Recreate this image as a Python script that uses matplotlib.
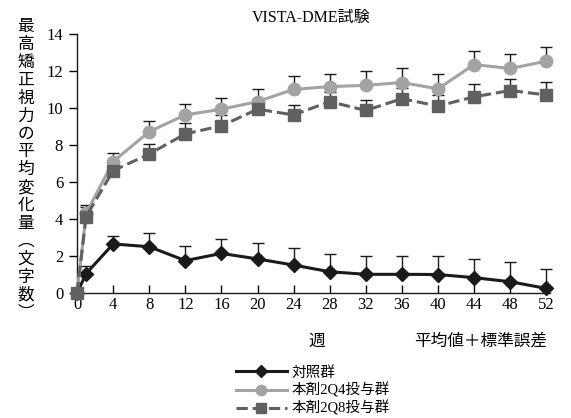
import numpy as np
import matplotlib.pyplot as plt
from matplotlib.lines import Line2D

plt.rcParams['font.family'] = ['Liberation Serif', 'Noto Sans CJK JP']

# ── DATA ──────────────────────────────────────────────────────────────────────
weeks = [0, 1, 4, 8, 12, 16, 20, 24, 28, 32, 36, 40, 44, 48, 52]

ctrl_mean = [0, 1.05, 2.65, 2.5, 1.75, 2.14, 1.84, 1.51, 1.15, 1.01, 1.01, 1.0, 0.83, 0.61, 0.25]
ctrl_se   = [0, 0.4, 0.45, 0.75, 0.8, 0.8, 0.88, 0.92, 0.94, 0.99, 0.99, 1.0, 1.03, 1.05, 1.03]

q4_mean = [0, 4.3, 7.1, 8.72, 9.62, 9.93, 10.34, 11.0, 11.15, 11.22, 11.37, 11.03, 12.34, 12.13, 12.52]
q4_se   = [0, 0.45, 0.48, 0.59, 0.58, 0.63, 0.66, 0.7, 0.69, 0.76, 0.76, 0.81, 0.76, 0.79, 0.78]

q8_mean = [0, 4.13, 6.61, 7.51, 8.6, 9.03, 9.93, 9.62, 10.34, 9.86, 10.5, 10.1, 10.6, 10.94, 10.7]
q8_se   = [0, 0.5, 0.43, 0.53, 0.57, 0.59, 0.57, 0.54, 0.54, 0.57, 0.56, 0.62, 0.68, 0.61, 0.69]

labels = ["対照群", "本剤2Q4投与群", "本剤2Q8投与群"]
xticks = list(range(0, 53, 4))
yticks = list(range(0, 15, 2))

# ── STYLE ─────────────────────────────────────────────────────────────────────
C_CTRL = "#1a1a1a"
C_Q4   = "#a3a3a3"
C_Q8   = "#606060"

fig = plt.figure(figsize=(5.71, 4.18), dpi=100, facecolor="white")
ax = fig.add_axes([0.135, 0.299, 0.828, 0.62])

series = [
    (ctrl_mean, ctrl_se, C_CTRL, "-", "D", 7, 6),
    (q4_mean, q4_se, C_Q4, "-", "o", 9, 7.5),
    (q8_mean, q8_se, C_Q8, "--", "s", 9, 7.5),
]

handles = []
for (m, se, col, ls, mk, ms, lms), lab in zip(series, labels):
    m = np.array(m)
    se = np.array(se)
    ax.errorbar(weeks, m, yerr=[np.zeros_like(se), se], fmt="none",
                ecolor="#1a1a1a", elinewidth=1.0, capsize=4, capthick=1.0,
                clip_on=False, zorder=2)
    ax.plot(weeks, m, color=col, ls=ls, lw=2.2, marker=mk, ms=ms,
            markeredgecolor=col, clip_on=False, zorder=3)
    handles.append(Line2D([], [], color=col, ls=ls, lw=2.2, marker=mk,
                          ms=lms, markeredgecolor=col))

ax.set_xlim(0, 52.4)
ax.set_ylim(0, 14)
ax.set_xticks(xticks)
ax.set_yticks(yticks)
ax.tick_params(axis="x", direction="in", length=6, width=1, labelsize=12, pad=3)
ax.tick_params(axis="y", direction="out", length=6, width=1, labelsize=12, pad=4)
for s in ["top", "right"]:
    ax.spines[s].set_visible(False)
for s in ["left", "bottom"]:
    ax.spines[s].set_linewidth(1.0)
    ax.spines[s].set_color("#1a1a1a")

fig.text(0.545, 0.957, "VISTA-DME試験", ha="center", va="center", fontsize=11.5)

# vertical y label
ylab = "最高矯正視力の平均変化量︵文字数︶"
fig.text(0.045, 0.955, "\n".join(ylab), ha="center", va="top",
         fontsize=12, linespacing=1.16)

fig.text(0.555, 0.182, "週", ha="center", va="center", fontsize=12)
fig.text(0.958, 0.182, "平均値＋標準誤差", ha="right", va="center", fontsize=12)

fig.legend(handles, labels, loc="upper left", bbox_to_anchor=(0.413, 0.125),
           frameon=False, fontsize=10.5, handlelength=3.5, handletextpad=0.3,
           labelspacing=0.2, borderpad=0, borderaxespad=0)

plt.savefig("out.png", dpi=100)
